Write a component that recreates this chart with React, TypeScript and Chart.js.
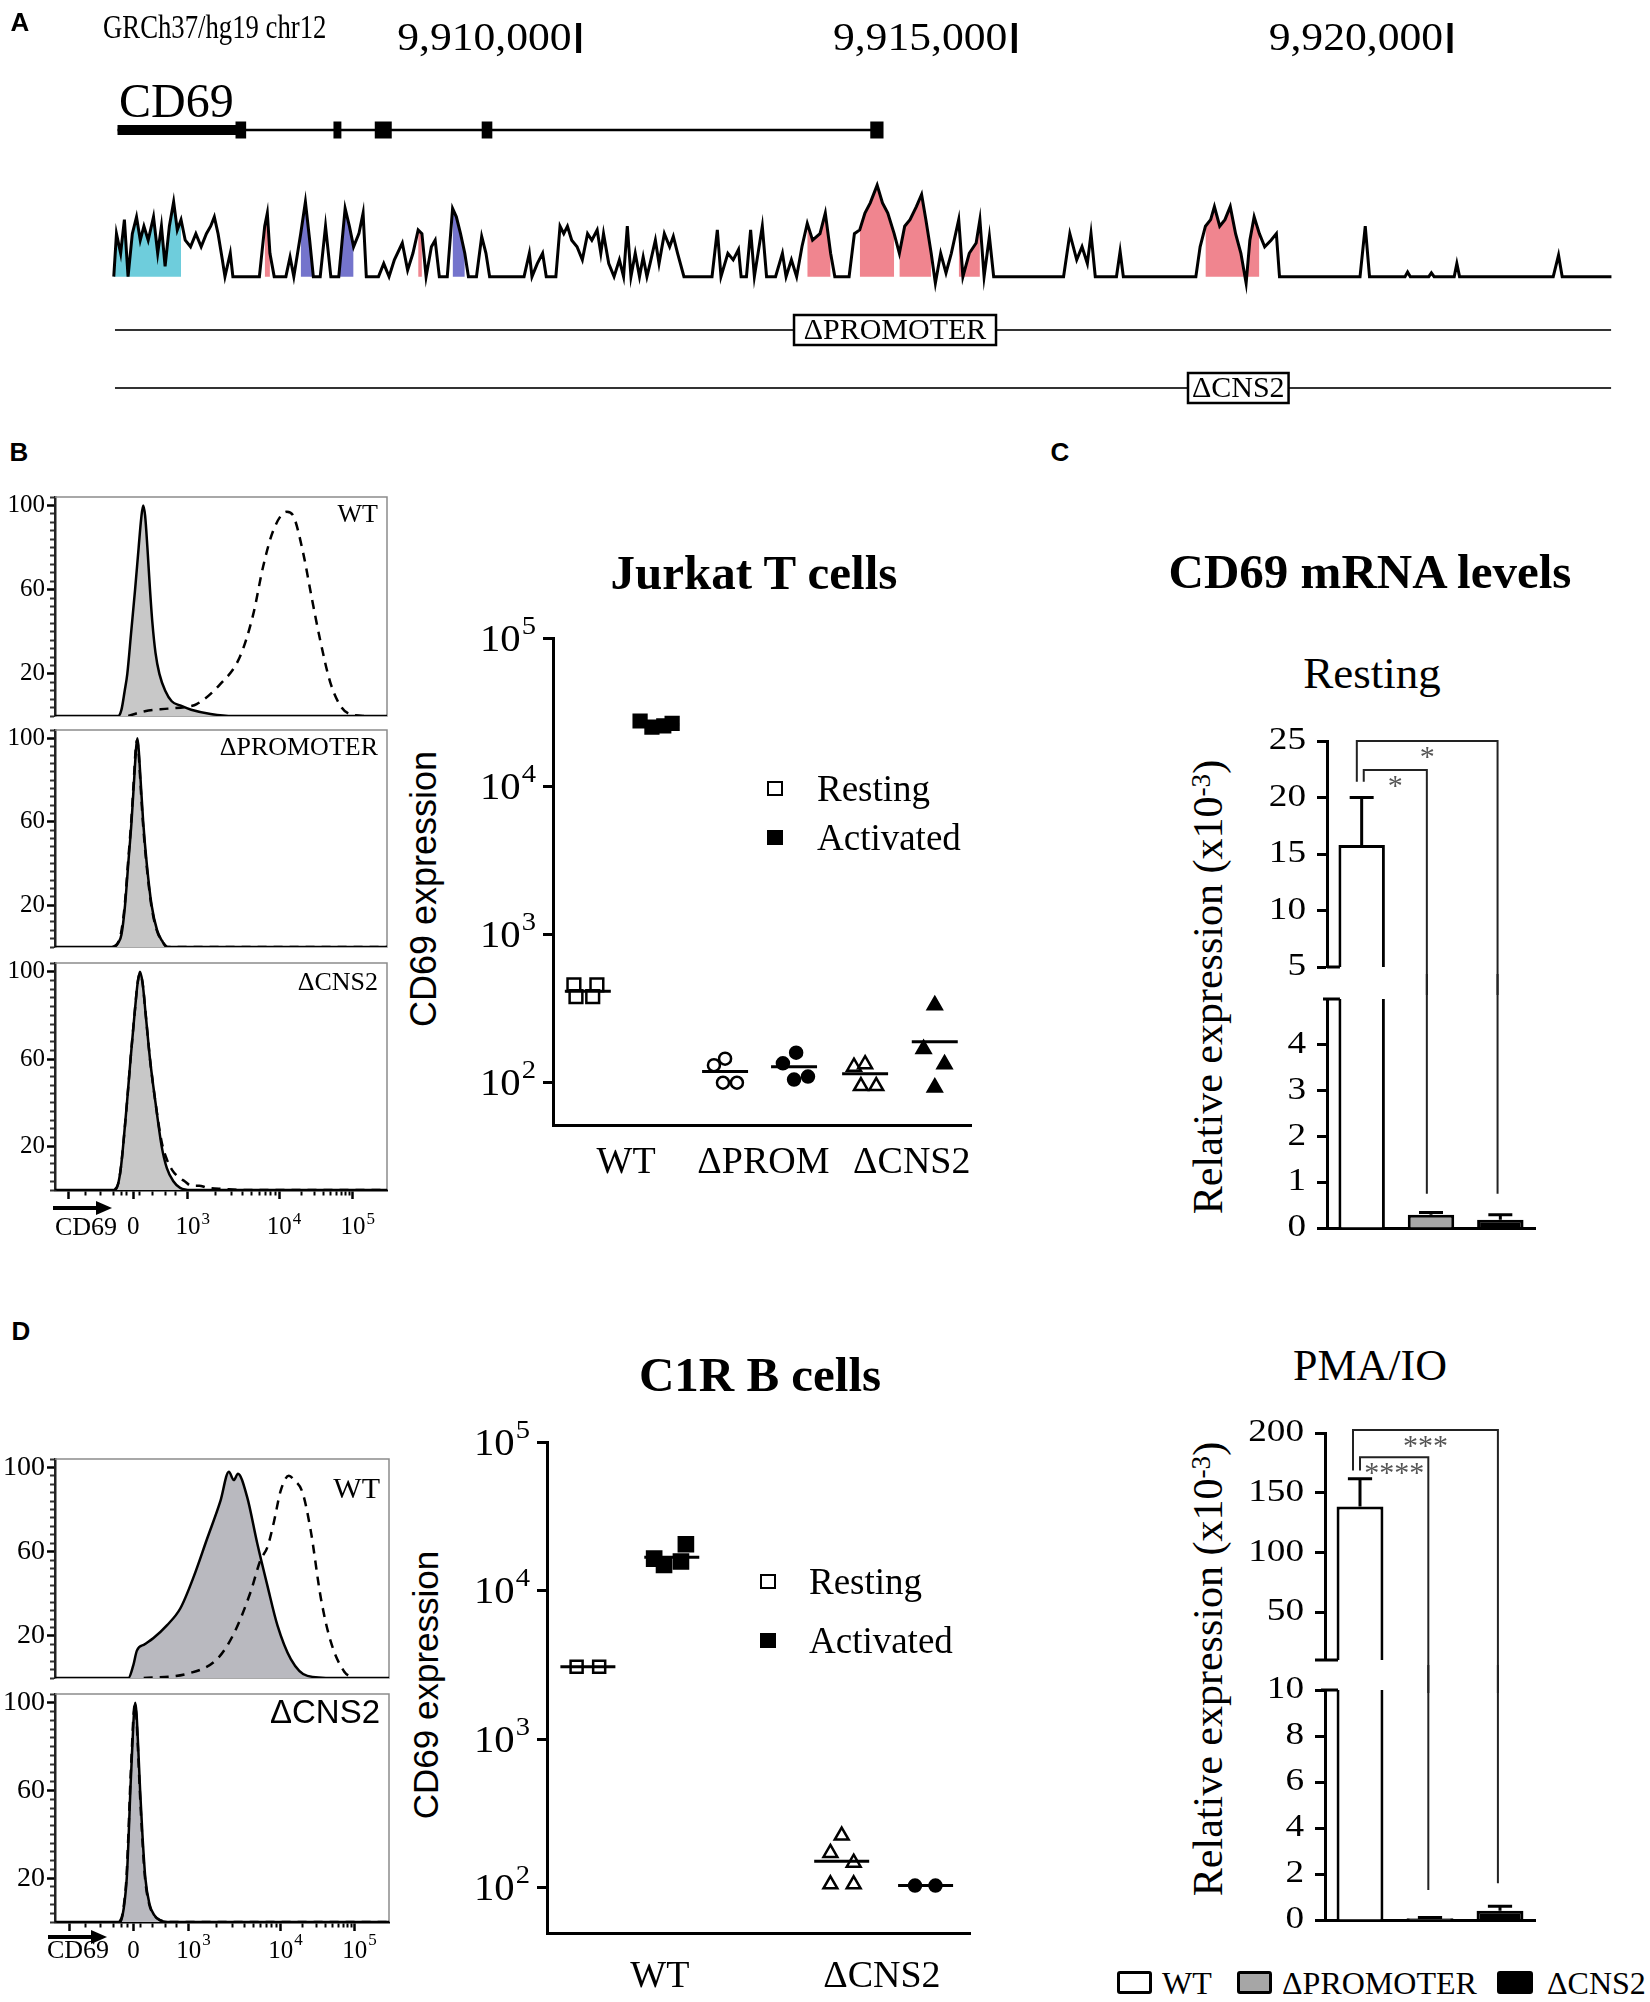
import React, { useEffect, useRef } from 'react';
import { Chart, registerables } from 'chart.js';

Chart.register(...registerables);

const SERIF = '"Liberation Serif", "Times New Roman", Times, serif';
const SANS = '"Liberation Sans", Arial, Helvetica, sans-serif';

/* ================= Panel A : CD69 locus (offsets in bp from CHR_BASE) ================= */
const CHR_LABEL = 'GRCh37/hg19 chr12';
const CHR_BASE = 9900000;
const POSITION_TICKS = [10000, 15000, 20000];
const WIGGLE: number[][] = [
  [4666, 0], [4697, 0.46], [4745, 0.25], [4788, 0.61], [4830, 0], [4879, 0.46], [4927, 0.64], [4970, 0.39],
  [5012, 0.54], [5061, 0.39], [5122, 0.64], [5170, 0.25], [5213, 0.54], [5255, 0.11], [5304, 0.54], [5353, 0.8],
  [5395, 0.5], [5438, 0.61], [5486, 0.39], [5547, 0.32], [5608, 0.46], [5669, 0.32], [5729, 0.46], [5778, 0.54],
  [5820, 0.64], [5863, 0.46], [5912, 0.18], [5942, 0], [6003, 0.25], [6033, 0], [6337, 0], [6398, 0.54],
  [6428, 0.68], [6458, 0.25], [6507, 0], [6641, 0], [6689, 0.21], [6732, 0], [6811, 0.46], [6865, 0.8],
  [6914, 0.39], [6956, 0], [7035, 0], [7096, 0.54], [7157, 0], [7248, 0], [7321, 0.73], [7370, 0.54],
  [7418, 0.32], [7479, 0.46], [7527, 0.68], [7564, 0], [7704, 0], [7764, 0.14], [7825, 0], [7886, 0.18],
  [7977, 0.36], [8038, 0.07], [8099, 0.25], [8159, 0.5], [8202, 0.46], [8250, 0], [8311, 0.32], [8354, 0.39],
  [8402, 0], [8493, 0], [8554, 0.73], [8597, 0.64], [8645, 0.46], [8694, 0.25], [8736, 0], [8828, 0],
  [8888, 0.43], [8937, 0.25], [8979, 0], [9374, 0], [9435, 0.25], [9465, 0], [9526, 0.14], [9587, 0.25],
  [9629, 0], [9739, 0], [9787, 0.54], [9830, 0.46], [9872, 0.54], [9921, 0.39], [9982, 0.32], [10043, 0.18],
  [10103, 0.46], [10152, 0.39], [10213, 0.5], [10255, 0.25], [10286, 0.46], [10346, 0.14], [10407, 0], [10468, 0.18],
  [10516, 0], [10559, 0.54], [10601, 0], [10650, 0.25], [10699, 0], [10741, 0.21], [10784, 0], [10820, 0.14],
  [10881, 0.39], [10923, 0.14], [10984, 0.46], [11045, 0.32], [11087, 0.43], [11136, 0.25], [11209, 0], [11531, 0],
  [11592, 0.5], [11634, 0], [11713, 0.25], [11774, 0.18], [11835, 0.29], [11865, 0], [11926, 0], [11974, 0.5],
  [12017, 0], [12108, 0.54], [12157, 0], [12260, 0], [12339, 0.25], [12381, 0], [12442, 0.18], [12502, 0],
  [12563, 0.32], [12624, 0.57], [12685, 0.39], [12770, 0.46], [12831, 0.68], [12892, 0.25], [12940, 0], [13104, 0],
  [13165, 0.46], [13226, 0.5], [13286, 0.68], [13347, 0.79], [13426, 0.98], [13487, 0.79], [13548, 0.68], [13621, 0.46],
  [13681, 0.25], [13742, 0.54], [13803, 0.61], [13876, 0.75], [13936, 0.88], [13985, 0.61], [14046, 0.25], [14094, -0.07],
  [14155, 0.25], [14216, 0.04], [14277, 0.25], [14362, 0.61], [14410, 0], [14483, 0.25], [14562, 0.36], [14605, 0.61],
  [14653, 0], [14714, 0.43], [14763, 0], [15565, 0], [15637, 0.46], [15716, 0.18], [15777, 0.32], [15838, 0.14],
  [15880, 0.46], [15929, 0], [16172, 0], [16214, 0.27], [16251, 0], [17083, 0], [17132, 0.32], [17193, 0.54],
  [17253, 0.61], [17296, 0.75], [17357, 0.54], [17417, 0.61], [17478, 0.75], [17539, 0.46], [17600, 0.25], [17660, -0.07],
  [17703, 0.39], [17752, 0.64], [17812, 0.46], [17873, 0.32], [17946, 0.39], [18007, 0.46], [18043, 0], [18967, 0],
  [19027, 0.54], [19076, 0], [19483, 0], [19513, 0.05], [19544, 0], [19756, 0], [19786, 0.04], [19817, 0],
  [20048, 0], [20078, 0.14], [20109, 0], [21184, 0], [21245, 0.23], [21287, 0], [21852, 0],
];
const CONS_START = [4666, 6367, 6792, 7248, 8129, 8536, 12582, 13226, 13681, 14319, 17174];
const CONS_END = [5456, 6470, 6956, 7442, 8232, 8718, 12922, 13669, 14058, 14641, 17812];
const CONS_TYPE = ['c', 'p', 'b', 'b', 'p', 'b', 'p', 'p', 'p', 'p', 'p'];
const CONS_COLOR: Record<string, string> = { c: '#6ecddc', b: '#7474cc', p: '#f0858f' };
const GENE_NAME = 'CD69';
const GENE_SPAN = [4709, 13420];
const UTR_SPAN = [4709, 6124];
const EXON_START = [6063, 7187, 7661, 8888, 13347];
const EXON_END = [6185, 7278, 7856, 9010, 13499];
const TRACK_SPAN = [4680, 21848];
const DEL_LABELS = ['ΔPROMOTER', 'ΔCNS2'];
const DEL_START = [12472, 16993];
const DEL_END = [14790, 18147];

/* ================= Panels B / D : flow histograms (channel, % of max) ================= */
const B_WT_REST = [[0, 0], [150, 0], [195, 0], [205, 3], [215, 12], [223, 20], [235, 40], [247, 60], [258, 80], [266, 94], [272, 100], [278, 95], [285, 80], [293, 60], [300, 45], [310, 30], [322, 20], [340, 12], [360, 7], [386, 5], [420, 3], [480, 1], [550, 0], [1024, 0]];
const B_WT_ACT = [[226, 0], [277, 2.3], [349, 3.5], [411, 4.5], [437, 5.6], [509, 15], [570, 28], [611, 48], [642, 71], [673, 88], [715, 97], [735, 95], [766, 77], [792, 56], [818, 36], [849, 16], [884, 4], [919, 0.5], [960, 0]];
const B_PROM_REST = [[0, 0], [180, 0], [195, 2], [205, 6], [216, 20], [226, 40], [236, 60], [244, 80], [250, 95], [254, 100], [258, 95], [264, 80], [272, 60], [283, 40], [298, 20], [315, 8], [330, 3], [345, 0], [1024, 0]];
const B_PROM_ACT = [[178, 0], [194, 2], [204, 7], [215, 20], [225, 40], [235, 60], [243, 80], [249, 95], [253, 99], [257, 95], [263, 80], [271, 60], [282, 40], [297, 20], [314, 8], [330, 3], [348, 0], [1024, 0]];
const B_CNS2_REST = [[0, 0], [185, 0], [195, 3], [203, 10], [210, 20], [222, 40], [233, 60], [245, 80], [255, 95], [262, 100], [270, 95], [280, 80], [293, 60], [310, 40], [329, 20], [345, 10], [365, 4], [386, 1], [420, 0], [1024, 0]];
const B_CNS2_ACT = [[184, 0], [195, 3], [203, 10], [210, 20], [222, 40], [233, 60], [245, 80], [255, 95], [262, 99], [270, 95], [280, 80], [293, 60], [310, 40], [329, 22], [345, 14], [362, 9], [380, 6], [400, 4], [420, 2], [445, 2], [470, 1], [520, 0.5], [600, 0], [1024, 0]];
const D_WT_REST = [[0, 0], [200, 0], [225, 0], [240, 6], [251, 13], [275, 16], [302, 19], [343, 25], [384, 33], [425, 48], [466, 66], [507, 84], [533, 98], [548, 94], [561, 97], [589, 86], [620, 64], [651, 44], [682, 25], [723, 9], [774, 1], [856, 0], [1024, 0]];
const D_WT_ACT = [[272, 0], [405, 2], [497, 9], [548, 21], [600, 41], [630, 56], [651, 62], [671, 74], [692, 89], [717, 96], [733, 94], [759, 88], [784, 70], [815, 38], [846, 17], [887, 3], [917, 0]];
const D_CNS2_REST = [[0, 0], [200, 0], [207, 3], [214, 10], [220, 20], [226, 40], [231, 60], [237, 80], [242, 95], [246, 100], [250, 95], [255, 80], [261, 60], [268, 40], [277, 20], [290, 8], [305, 3], [320, 1], [345, 0], [1024, 0]];
const D_CNS2_ACT = [[198, 0], [206, 3], [213, 10], [219, 20], [225, 40], [230, 60], [236, 80], [241, 95], [245, 99], [249, 95], [254, 80], [260, 60], [267, 40], [276, 20], [289, 8], [304, 3], [320, 1], [345, 0], [1024, 0]];
const HIST_MAJOR = [43, 241, 410, 692, 919];
const HIST_TICK_TEXT = ['', '0', '10', '10', '10'];
const HIST_TICK_EXP = ['', '', '3', '4', '5'];
const HIST_Y_LABELS = [20, 60, 100];

/* ================= Dot plots ================= */
const POW_TICKS = [100, 1000, 10000, 100000];
const POW_EXP = ['2', '3', '4', '5'];
const JURKAT_LABELS = ['WT', 'ΔPROM', 'ΔCNS2'];
const JURKAT_WT_REST = [453, 453, 378, 378];
const JURKAT_WT_ACT = [27500, 25000, 25500, 26500];
const JURKAT_PROM_REST = [130, 144, 99, 99];
const JURKAT_PROM_ACT = [134, 158, 104, 109];
const JURKAT_CNS2_REST = [127, 132, 94, 94];
const JURKAT_CNS2_ACT = [331, 167, 132, 92];
const JURKAT_MEANS = [411, 26000, 118, 127, 114, 187];
const C1R_LABELS = ['WT', 'ΔCNS2'];
const C1R_WT_REST = [3070, 3070];
const C1R_WT_ACT = [16400, 14850, 15670, 20500];
const C1R_CNS2_REST = [224, 171, 147, 105, 105];
const C1R_CNS2_ACT = [103, 103];
const C1R_MEANS = [3070, 16750, 150, 103];

/* ================= Panel C : qPCR bars ================= */
const BAR_GROUPS = ['WT', 'ΔPROMOTER', 'ΔCNS2'];
const REST_MEAN = [15.8, 0.29, 0.18];
const REST_ERR = [4.2, 0.05, 0.11];
const PMA_MEAN = [138.5, 0.08, 0.4];
const PMA_ERR = [23.3, 0.03, 0.2];
const SIG_PAIRS = [[0, 1], [0, 2]];
const REST_SIG = ['*', '*'];
const PMA_SIG = ['****', '***'];

/* ---------- layout constants (not data) ---------- */
const ROW_GENE = 130;
const ROW_DEL = [330, 388];
const GENOME_X = [4508, 22065];
const BAR_COLORS = ['#ffffff', '#a6a6a6', '#000000'];
const REST_BR = { offL: [0.03, -0.07], offR: [-0.06, -0.04], base: 21.4, top: [22.44, 25.0], bottom: [0.75, 0.75] };
const PMA_BR = { offL: [0, -0.1], offR: [-0.024, -0.03], base: 168.7, top: [179.7, 202.5], bottom: [1.3, 1.6] };

const toXY = (arr: number[][]) => arr.map(([x, y]) => ({ x, y }));

function drawPow(ctx: any, base: string, exp: string, x: number, y: number, bs: number, es: number, expDy: number, mode: string, sx = 1) {
  ctx.save();
  ctx.textBaseline = 'middle';
  ctx.textAlign = 'left';
  ctx.fillStyle = '#000';
  ctx.font = `${bs}px ${SERIF}`;
  const wb = ctx.measureText(base).width * sx;
  ctx.font = `${es}px ${SERIF}`;
  const we = exp ? ctx.measureText(exp).width * sx : 0;
  const x0 = mode === 'right' ? x - wb - we : x - wb / 2;
  ctx.translate(x0, y);
  ctx.scale(sx, 1);
  ctx.font = `${bs}px ${SERIF}`;
  ctx.fillText(base, 0, 0);
  if (exp) {
    ctx.font = `${es}px ${SERIF}`;
    ctx.fillText(exp, wb / sx + 1, expDy);
  }
  ctx.restore();
}

/* ---------- Panel A config ---------- */
function seg(a: number, b: number, row: number, w: number, color = '#000') {
  return { data: [{ x: a, y: row }, { x: b, y: row }], yAxisID: 'yr', borderColor: color, borderWidth: w, borderCapStyle: 'butt', pointRadius: 0, fill: false, order: 2 };
}

function genomeConfig() {
  const wig = toXY(WIGGLE);
  const datasets: any[] = [
    { data: wig, yAxisID: 'yw', borderColor: '#000', borderWidth: 3, pointRadius: 0, fill: false, order: 0 },
  ];
  CONS_START.forEach((s, i) => {
    datasets.push({
      data: wig.filter((p) => p.x >= s && p.x <= CONS_END[i]), yAxisID: 'yw', borderWidth: 0,
      borderColor: 'rgba(0,0,0,0)', backgroundColor: CONS_COLOR[CONS_TYPE[i]], pointRadius: 0, fill: 'origin', order: 1,
    });
  });
  datasets.push(seg(GENE_SPAN[0], GENE_SPAN[1], ROW_GENE, 2.5));
  datasets.push(seg(UTR_SPAN[0], UTR_SPAN[1], ROW_GENE, 10));
  EXON_START.forEach((s, i) => datasets.push(seg(s, EXON_END[i], ROW_GENE, 17)));
  ROW_DEL.forEach((r) => datasets.push(seg(TRACK_SPAN[0], TRACK_SPAN[1], r, 2, '#333')));
  return {
    type: 'line',
    data: { datasets },
    options: {
      scales: {
        x: { type: 'linear', min: GENOME_X[0], max: GENOME_X[1], display: false },
        yw: { type: 'linear', min: -1.535, max: 2.962, display: false },
        yr: { type: 'linear', min: 0, max: 420, reverse: true, display: false },
      },
    },
    plugins: [{
      id: 'locus',
      afterDatasetsDraw(chart: any) {
        const { ctx } = chart;
        const xs = chart.scales.x;
        const yr = chart.scales.yr;
        ctx.save();
        POSITION_TICKS.forEach((v) => {
          const px = xs.getPixelForValue(v);
          ctx.save();
          ctx.fillStyle = '#000';
          ctx.translate(px - 7, 50);
          ctx.scale(1.09, 1);
          ctx.font = `40px ${SERIF}`;
          ctx.textAlign = 'right';
          ctx.textBaseline = 'alphabetic';
          ctx.fillText((CHR_BASE + v).toLocaleString('en-US'), 0, 0);
          ctx.restore();
          ctx.fillStyle = '#000';
          ctx.fillRect(px - 2.5, 23, 5, 30);
        });
        DEL_LABELS.forEach((lab, i) => {
          const x0 = xs.getPixelForValue(DEL_START[i]);
          const x1 = xs.getPixelForValue(DEL_END[i]);
          const yc = yr.getPixelForValue(ROW_DEL[i]);
          ctx.fillStyle = '#fff';
          ctx.fillRect(x0, yc - 15, x1 - x0, 30);
          ctx.strokeStyle = '#000';
          ctx.lineWidth = 2.5;
          ctx.strokeRect(x0, yc - 15, x1 - x0, 30);
          ctx.fillStyle = '#000';
          ctx.font = `30px ${SERIF}`;
          ctx.textAlign = 'center';
          ctx.textBaseline = 'middle';
          ctx.fillText(lab, (x0 + x1) / 2, yc + 1);
        });
        ctx.restore();
      },
    }],
  };
}

/* ---------- Histogram config ---------- */
function histConfig(o: any) {
  const majorSet = new Set(HIST_MAJOR);
  const minor: number[] = [95, 140, 180, 205, 222, 262, 300, 340, 372];
  for (let k = 2; k <= 9; k++) {
    minor.push(HIST_MAJOR[2] + (HIST_MAJOR[3] - HIST_MAJOR[2]) * Math.log10(k));
    minor.push(HIST_MAJOR[3] + (HIST_MAJOR[4] - HIST_MAJOR[3]) * Math.log10(k));
  }
  const xTicks = [...HIST_MAJOR, ...minor];
  const yTicks: number[] = [];
  for (let v = 0; v <= 104; v += 4) yTicks.push(v);
  return {
    type: 'line',
    data: {
      datasets: [
        { data: toXY(o.act), borderColor: '#000', borderWidth: 2.5, borderDash: [9, 7], pointRadius: 0, fill: false, cubicInterpolationMode: 'monotone', order: 0 },
        { data: toXY(o.rest), borderColor: '#000', borderWidth: 2.5, backgroundColor: o.fillColor, pointRadius: 0, fill: 'origin', cubicInterpolationMode: 'monotone', order: 1 },
      ],
    },
    options: {
      scales: {
        x: {
          type: 'linear', min: 0, max: 1024, display: !!o.bottom,
          afterBuildTicks: (s: any) => { s.ticks = xTicks.map((v) => ({ value: v })); },
          afterFit: (s: any) => { s.height = 10; },
          ticks: { display: false },
          grid: {
            display: true, drawOnChartArea: false, drawTicks: true, tickLength: 9, tickColor: '#000',
            tickWidth: (c: any) => (c.tick && majorSet.has(c.tick.value) ? 2.5 : 2),
            tickBorderDash: (c: any) => (c.tick && majorSet.has(c.tick.value) ? [] : [4, 100]),
          },
          border: { display: true, color: '#000', width: 2.5 },
        },
        y: {
          type: 'linear', min: 0, max: 104,
          afterBuildTicks: (s: any) => { s.ticks = yTicks.map((v) => ({ value: v })); },
          afterFit: (s: any) => { s.width = o.yW; },
          ticks: {
            autoSkip: false, padding: 2, color: '#000', font: { family: SERIF, size: o.tickSize },
            callback: (v: any) => (HIST_Y_LABELS.includes(v) ? String(v) : ''),
          },
          grid: {
            display: true, drawOnChartArea: false, tickLength: 8,
            tickColor: (c: any) => (c.tick && HIST_Y_LABELS.includes(c.tick.value) ? '#000' : '#333'),
            tickWidth: (c: any) => (c.tick && HIST_Y_LABELS.includes(c.tick.value) ? 2.5 : 2),
            tickBorderDash: (c: any) => (c.tick && HIST_Y_LABELS.includes(c.tick.value) ? [] : [0, 3, 4, 100]),
          },
          border: { display: true, color: '#222', width: 2.5 },
        },
      },
    },
    plugins: [{
      id: 'histdeco',
      beforeDatasetsDraw(chart: any) {
        const { ctx, chartArea: a } = chart;
        ctx.save();
        ctx.strokeStyle = '#8c8c8c';
        ctx.lineWidth = 1.5;
        ctx.beginPath();
        ctx.moveTo(a.left, a.top);
        ctx.lineTo(a.right, a.top);
        ctx.lineTo(a.right, a.bottom);
        if (!o.bottom) ctx.lineTo(a.left, a.bottom);
        ctx.stroke();
        ctx.restore();
      },
      afterDraw(chart: any) {
        const { ctx, chartArea: a } = chart;
        ctx.save();
        ctx.fillStyle = '#000';
        ctx.font = o.labelFont;
        ctx.textAlign = 'right';
        ctx.textBaseline = 'middle';
        ctx.fillText(o.label, a.right - 9, a.top + o.labelDy);
        if (o.bottom) {
          const b = o.bottom;
          const xs = chart.scales.x;
          HIST_MAJOR.forEach((v, i) => {
            if (!HIST_TICK_TEXT[i]) return;
            drawPow(ctx, HIST_TICK_TEXT[i], HIST_TICK_EXP[i], xs.getPixelForValue(v), a.bottom + b.baseDy, 25, 17, b.expDy - b.baseDy, 'center');
          });
          ctx.fillStyle = '#000';
          ctx.font = `26px ${SERIF}`;
          ctx.textAlign = 'left';
          ctx.textBaseline = 'middle';
          ctx.fillText('CD69', a.left + b.cdX, a.bottom + b.cdDy);
          const ay = a.bottom + b.arrowDy;
          const ax0 = a.left + b.arrowX0;
          const ax1 = a.left + b.arrowX1;
          ctx.strokeStyle = '#000';
          ctx.lineWidth = 4;
          ctx.beginPath();
          ctx.moveTo(ax0, ay);
          ctx.lineTo(ax1 - 12, ay);
          ctx.stroke();
          ctx.beginPath();
          ctx.moveTo(ax1, ay);
          ctx.lineTo(ax1 - 16, ay - 7);
          ctx.lineTo(ax1 - 16, ay + 7);
          ctx.closePath();
          ctx.fill();
        }
        ctx.restore();
      },
    }],
  };
}

/* ---------- Dot plot config ---------- */
function dotConfig(o: any) {
  const datasets: any[] = [];
  o.groups.forEach((vals: number[], g: number) => {
    datasets.push({
      data: vals.map((v, k) => ({ x: o.centers[g] + o.jitter[g][k], y: v })),
      showLine: false, pointStyle: o.styles[g], pointRadius: o.radii[g],
      pointBackgroundColor: o.filled[g] ? '#000' : '#fff', pointBorderColor: '#000', pointBorderWidth: 2.5,
      order: 1, clip: false,
    });
  });
  o.means.forEach((m: number, g: number) => {
    datasets.push({
      data: [{ x: o.centers[g] - o.half, y: m }, { x: o.centers[g] + o.half, y: m }],
      borderColor: '#000', borderWidth: 3, pointRadius: 0, fill: false, order: 0,
    });
  });
  return {
    type: 'line',
    data: { datasets },
    options: {
      scales: {
        x: {
          type: 'linear', min: 0, max: 6,
          afterBuildTicks: (s: any) => { s.ticks = o.labelAt.map((v: number) => ({ value: v })); },
          afterFit: (s: any) => { s.height = 60; },
          ticks: {
            autoSkip: false, maxRotation: 0, padding: o.labelPad, color: '#000', font: { family: SERIF, size: 38 },
            callback: (_v: any, i: number) => o.labels[i],
          },
          grid: { display: false, drawTicks: false },
          border: { display: true, color: '#000', width: 3 },
        },
        y: {
          type: 'logarithmic', min: o.ymin, max: 100000,
          afterBuildTicks: (s: any) => { s.ticks = POW_TICKS.map((v) => ({ value: v })); },
          afterFit: (s: any) => { s.width = 12; },
          ticks: { display: false },
          grid: { display: true, drawOnChartArea: false, drawTicks: true, tickLength: 10, tickWidth: 3, tickColor: '#000' },
          border: { display: true, color: '#000', width: 3 },
        },
      },
    },
    plugins: [{
      id: 'powlabels',
      afterDraw(chart: any) {
        const { ctx, chartArea: a } = chart;
        const ys = chart.scales.y;
        POW_TICKS.forEach((v, i) => {
          drawPow(ctx, '10', POW_EXP[i], a.left - 18, ys.getPixelForValue(v) + 3, 37, 26, -14, 'right', 1.1);
        });
      },
    }],
  };
}

/* ---------- Bar (broken axis) config ---------- */
function barConfig(o: any) {
  const datasets: any[] = [{
    type: 'bar', data: o.means.map((m: number, i: number) => ({ x: i, y: m })),
    backgroundColor: BAR_COLORS, borderColor: '#000', borderWidth: 3, barPercentage: 0.67, categoryPercentage: 1,
    clip: 0, order: 3, borderSkipped: 'start',
  }];
  o.means.forEach((m: number, i: number) => {
    const t = m + o.errs[i];
    datasets.push({
      type: 'line', data: [{ x: i, y: m }, { x: i, y: t }, { x: i - 0.173, y: t }, { x: i + 0.173, y: t }],
      borderColor: '#000', borderWidth: 3, pointRadius: 0, clip: 0, order: 2, fill: false,
    });
  });
  const span = o.max - o.min;
  o.brackets.forEach((b: any) => {
    const pts = o.part === 'upper'
      ? [{ x: b.l, y: b.base }, { x: b.l, y: b.top }, { x: b.r, y: b.top }, { x: b.r, y: o.min - 3 * span }]
      : [{ x: b.r, y: o.max + 3 * span }, { x: b.r, y: b.bottom }];
    datasets.push({ type: 'line', data: pts, borderColor: '#222', borderWidth: 2, pointRadius: 0, clip: false, order: 1, fill: false });
  });
  return {
    type: 'bar',
    data: { datasets },
    options: {
      scales: {
        x: {
          type: 'linear', min: -0.5, max: 2.5, offset: false, display: o.part === 'lower',
          afterBuildTicks: (s: any) => { s.ticks = o.means.map((_m: number, i: number) => ({ value: i })); },
          afterFit: (s: any) => { s.height = 3; },
          ticks: { display: false },
          grid: { display: false, drawTicks: false, offset: false },
          border: { display: true, color: '#000', width: 3 },
        },
        y: {
          type: 'linear', min: o.min, max: o.max,
          afterBuildTicks: (s: any) => { s.ticks = o.ticks.map((v: number) => ({ value: v })); },
          afterFit: (s: any) => { s.width = o.yW; },
          ticks: { display: false },
          grid: { display: true, drawOnChartArea: false, drawTicks: true, tickLength: 10, tickWidth: 3, tickColor: '#000' },
          border: { display: true, color: '#000', width: 3 },
        },
      },
    },
    plugins: [{
      id: 'bardeco',
      afterDraw(chart: any) {
        const { ctx, chartArea: a } = chart;
        const xs = chart.scales.x;
        const ys = chart.scales.y;
        o.ticks.forEach((v: number) => {
          drawPow(ctx, String(v), '', a.left - 21, ys.getPixelForValue(v), 31, 20, 0, 'right', 1.2);
        });
        const el: any = chart.getDatasetMeta(0).data[0];
        const barLeft = el.x - el.width / 2;
        ctx.save();
        ctx.strokeStyle = '#000';
        ctx.lineWidth = 3;
        ctx.beginPath();
        if (o.part === 'upper') {
          ctx.moveTo(a.left - o.breakTick, a.bottom);
          ctx.lineTo(barLeft + 1.5, a.bottom);
        } else {
          ctx.moveTo(a.left - 4, a.top);
          ctx.lineTo(barLeft + 1.5, a.top);
        }
        ctx.stroke();
        if (o.part === 'upper') {
          ctx.fillStyle = '#555';
          ctx.font = `30px ${SERIF}`;
          ctx.textAlign = 'center';
          ctx.textBaseline = 'top';
          o.brackets.forEach((b: any, i: number) => {
            ctx.fillText(o.sig[i], (xs.getPixelForValue(b.l) + xs.getPixelForValue(b.r)) / 2, ys.getPixelForValue(b.top) + 2);
          });
        }
        ctx.restore();
      },
    }],
  };
}

function brackets(br: any) {
  return SIG_PAIRS.map((p, i) => ({ l: p[0] + br.offL[i], r: p[1] + br.offR[i], base: br.base, top: br.top[i], bottom: br.bottom[i] }));
}

/* ---------- components ---------- */
function ChartBox({ area, m, axisW = 0, axisH = 0, make }: any) {
  const ref = useRef<HTMLCanvasElement | null>(null);
  const [x0, y0, x1, y1] = area;
  const [ml, mt, mr, mb] = m;
  const left = x0 - ml;
  const top = y0 - mt;
  const width = x1 - x0 + ml + mr;
  const height = y1 - y0 + mt + mb;
  useEffect(() => {
    if (!ref.current) return;
    const cfg: any = make();
    const opts = cfg.options || (cfg.options = {});
    opts.responsive = false;
    opts.maintainAspectRatio = false;
    opts.animation = false;
    opts.devicePixelRatio = 1;
    opts.events = [];
    opts.layout = { padding: { left: ml - axisW, top: mt, right: mr, bottom: mb - axisH } };
    opts.plugins = { legend: { display: false }, tooltip: { enabled: false }, ...(opts.plugins || {}) };
    const chart = new Chart(ref.current, cfg);
    return () => chart.destroy();
  }, []);
  return <canvas ref={ref} width={width} height={height} style={{ position: 'absolute', left, top, width, height }} />;
}

function Txt({ x, y, s, f = SERIF, w = 400, a = 'c', rot = false, sx = 1, color = '#000', children }: any) {
  const tx = a === 'l' ? '0' : a === 'r' ? '-100%' : '-50%';
  const origin = a === 'l' ? 'left center' : a === 'r' ? 'right center' : 'center center';
  const transform = rot ? 'translate(-50%, -50%) rotate(-90deg)' : `translate(${tx}, -50%) scaleX(${sx})`;
  return (
    <div style={{
      position: 'absolute', left: x, top: y, fontFamily: f, fontSize: s, fontWeight: w, lineHeight: 1,
      whiteSpace: 'nowrap', transform, transformOrigin: rot ? 'center center' : origin, color,
    }}>{children}</div>
  );
}

function Sq({ x, y, w, h, fill, bw = 2.5, r = 0 }: any) {
  return <div style={{ position: 'absolute', left: x - w / 2, top: y - h / 2, width: w, height: h, boxSizing: 'border-box', border: `${bw}px solid #000`, background: fill, borderRadius: r }} />;
}

const sup = (t: string) => <span style={{ fontSize: '0.65em', position: 'relative', top: '-0.45em' }}>{t}</span>;

export default function App() {
  const jurkat = () => dotConfig({
    groups: [JURKAT_WT_REST, JURKAT_WT_ACT, JURKAT_PROM_REST, JURKAT_PROM_ACT, JURKAT_CNS2_REST, JURKAT_CNS2_ACT],
    centers: [0.5, 1.48, 2.47, 3.46, 4.48, 5.48],
    jitter: [[-0.2, 0.13, -0.17, 0.07], [-0.23, -0.06, 0.11, 0.23], [-0.16, 0, -0.03, 0.17], [-0.16, 0.03, 0, 0.2], [-0.16, 0, -0.06, 0.16], [0, -0.16, 0.14, 0]],
    styles: ['rect', 'rect', 'circle', 'circle', 'triangle', 'triangle'],
    filled: [false, true, false, true, false, true],
    radii: [9, 9, 6, 6, 8, 8],
    means: JURKAT_MEANS, half: 0.33, ymin: 51.3,
    labels: JURKAT_LABELS, labelAt: [1.05, 3.02, 5.15], labelPad: 15,
  });
  const c1r = () => dotConfig({
    groups: [C1R_WT_REST, C1R_WT_ACT, C1R_CNS2_REST, C1R_CNS2_ACT],
    centers: [0.58, 1.77, 4.18, 5.37],
    jitter: [[-0.16, 0.16], [-0.25, -0.11, 0.13, 0.2], [0, -0.16, 0.17, -0.16, 0.17], [-0.15, 0.14]],
    styles: ['rect', 'rect', 'triangle', 'circle'],
    filled: [false, true, false, true],
    radii: [8.5, 10, 8, 6],
    means: C1R_MEANS, half: 0.39, ymin: 49.4,
    labels: C1R_LABELS, labelAt: [1.6, 4.75], labelPad: 21,
  });
  const restBr = brackets(REST_BR);
  const pmaBr = brackets(PMA_BR);

  return (
    <div style={{ position: 'absolute', left: 0, top: 0, width: 1650, height: 2002, background: '#fff', overflow: 'hidden' }}>
      {/* ---------- A ---------- */}
      <ChartBox area={[100, 0, 1630, 420]} m={[100, 0, 20, 0]} make={genomeConfig} />
      <Txt x={20} y={22} s={26} f={SANS} w={700}>A</Txt>
      <Txt x={103} y={27} s={33} a="l" sx={0.81}>{CHR_LABEL}</Txt>
      <Txt x={119} y={101} s={48} a="l">{GENE_NAME}</Txt>

      {/* ---------- B histograms ---------- */}
      <Txt x={19} y={452} s={26} f={SANS} w={700}>B</Txt>
      <ChartBox area={[55, 497, 387, 726]} m={[55, 20, 12, 20]} axisW={50}
        make={() => histConfig({ rest: B_WT_REST, act: B_WT_ACT, label: 'WT', labelFont: `26px ${SERIF}`, labelDy: 18, fillColor: '#c8c8c8', tickSize: 25, yW: 50, bottom: null })} />
      <ChartBox area={[55, 730, 387, 957]} m={[55, 20, 12, 20]} axisW={50}
        make={() => histConfig({ rest: B_PROM_REST, act: B_PROM_ACT, label: 'ΔPROMOTER', labelFont: `26px ${SERIF}`, labelDy: 18, fillColor: '#c8c8c8', tickSize: 25, yW: 50, bottom: null })} />
      <ChartBox area={[55, 963, 387, 1190]} m={[55, 20, 12, 60]} axisW={50} axisH={10}
        make={() => histConfig({ rest: B_CNS2_REST, act: B_CNS2_ACT, label: 'ΔCNS2', labelFont: `26px ${SERIF}`, labelDy: 20, fillColor: '#c8c8c8', tickSize: 25, yW: 50,
          bottom: { baseDy: 37.5, expDy: 30, cdX: 0, cdDy: 38, arrowX0: -2, arrowX1: 57, arrowDy: 18 } })} />

      {/* ---------- Jurkat dot plot ---------- */}
      <Txt x={754} y={572} s={49} w={700}>Jurkat T cells</Txt>
      <ChartBox area={[553, 638, 971, 1125]} m={[100, 30, 20, 70]} axisW={12} axisH={60} make={jurkat} />
      <Txt x={424} y={889} s={36} f={SANS} rot>CD69 expression</Txt>
      <Sq x={775} y={788} w={16} h={15} fill="#fff" />
      <Txt x={817} y={788} s={37} a="l">Resting</Txt>
      <Sq x={775} y={837} w={16} h={15} fill="#000" />
      <Txt x={817} y={837} s={37} a="l">Activated</Txt>

      {/* ---------- C : resting ---------- */}
      <Txt x={1060} y={452} s={26} f={SANS} w={700}>C</Txt>
      <Txt x={1370} y={571} s={49} w={700}>CD69 mRNA levels</Txt>
      <Txt x={1372} y={673} s={45}>Resting</Txt>
      <ChartBox area={[1327, 741, 1535, 970]} m={[75, 30, 40, 25]} axisW={60}
        make={() => barConfig({ part: 'upper', means: REST_MEAN, errs: REST_ERR, min: 5, max: 25, ticks: [5, 10, 15, 20, 25], brackets: restBr, sig: REST_SIG, yW: 60, breakTick: 0 })} />
      <ChartBox area={[1327, 999, 1535, 1228]} m={[75, 25, 40, 30]} axisW={60} axisH={3}
        make={() => barConfig({ part: 'lower', means: REST_MEAN, errs: REST_ERR, min: 0, max: 5, ticks: [0, 1, 2, 3, 4], brackets: restBr, sig: REST_SIG, yW: 60, breakTick: 0 })} />
      <Txt x={1208} y={987} s={42} rot>Relative expression (x10{sup('-3')})</Txt>

      {/* ---------- D histograms ---------- */}
      <Txt x={21} y={1331} s={26} f={SANS} w={700}>D</Txt>
      <ChartBox area={[55, 1459, 389, 1688]} m={[55, 20, 10, 20]} axisW={52}
        make={() => histConfig({ rest: D_WT_REST, act: D_WT_ACT, label: 'WT', labelFont: `30px ${SERIF}`, labelDy: 31, fillColor: '#b9b9bf', tickSize: 28, yW: 52, bottom: null })} />
      <ChartBox area={[55, 1694, 389, 1922]} m={[55, 20, 10, 50]} axisW={52} axisH={10}
        make={() => histConfig({ rest: D_CNS2_REST, act: D_CNS2_ACT, label: 'ΔCNS2', labelFont: `33px ${SANS}`, labelDy: 20, fillColor: '#b9b9bf', tickSize: 28, yW: 52,
          bottom: { baseDy: 29.5, expDy: 18.5, cdX: -8, cdDy: 29, arrowX0: -7, arrowX1: 52, arrowDy: 15 } })} />

      {/* ---------- C1R dot plot ---------- */}
      <Txt x={760} y={1374} s={49} w={700}>C1R B cells</Txt>
      <ChartBox area={[547, 1442, 970, 1933]} m={[100, 30, 20, 70]} axisW={12} axisH={60} make={c1r} />
      <Txt x={425} y={1685} s={35} f={SANS} rot>CD69 expression</Txt>
      <Sq x={768} y={1581} w={16} h={15} fill="#fff" />
      <Txt x={809} y={1581} s={37} a="l">Resting</Txt>
      <Sq x={768} y={1640} w={16} h={15} fill="#000" />
      <Txt x={809} y={1640} s={37} a="l">Activated</Txt>

      {/* ---------- C : PMA/IO ---------- */}
      <Txt x={1370} y={1366} s={44}>PMA/IO</Txt>
      <ChartBox area={[1325, 1433, 1535, 1663]} m={[85, 30, 40, 30]} axisW={75}
        make={() => barConfig({ part: 'upper', means: PMA_MEAN, errs: PMA_ERR, min: 10, max: 200, ticks: [50, 100, 150, 200], brackets: pmaBr, sig: PMA_SIG, yW: 75, breakTick: 10 })} />
      <ChartBox area={[1325, 1690, 1535, 1920]} m={[85, 25, 40, 30]} axisW={75} axisH={3}
        make={() => barConfig({ part: 'lower', means: PMA_MEAN, errs: PMA_ERR, min: 0, max: 10, ticks: [0, 2, 4, 6, 8, 10], brackets: pmaBr, sig: PMA_SIG, yW: 75, breakTick: 10 })} />
      <Txt x={1208} y={1669} s={42} rot>Relative expression (x10{sup('-3')})</Txt>

      {/* ---------- bar legend ---------- */}
      <Sq x={1134} y={1982} w={35} h={23} fill={BAR_COLORS[0]} bw={3} r={3} />
      <Txt x={1162} y={1983} s={32} a="l">{BAR_GROUPS[0]}</Txt>
      <Sq x={1254} y={1982} w={35} h={23} fill={BAR_COLORS[1]} bw={3} r={3} />
      <Txt x={1282} y={1983} s={32} a="l">{BAR_GROUPS[1]}</Txt>
      <Sq x={1515} y={1982} w={36} h={23} fill={BAR_COLORS[2]} bw={3} r={3} />
      <Txt x={1547} y={1983} s={32} a="l">{BAR_GROUPS[2]}</Txt>
    </div>
  );
}
